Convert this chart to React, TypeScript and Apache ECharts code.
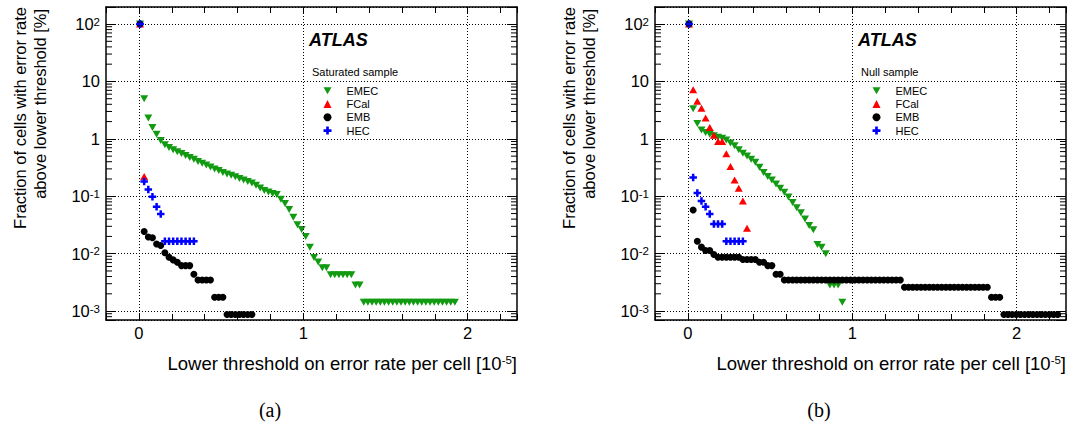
import React, { useEffect, useRef } from 'react';
import * as echarts from 'echarts';

// ---- bins: lower thresholds on error rate per cell [1e-5] ----
const BIN_START = 0.007;
const BIN_STEP = 0.0252;

// ---- (a) Saturated sample: fraction of cells [%] per threshold bin ----
const SAT_EMEC = [
  100, 5.0, 2.3, 1.58, 1.2, 0.94, 0.79, 0.71, 0.645, 0.595,
  0.555, 0.515, 0.475, 0.44, 0.405, 0.375, 0.35, 0.325, 0.3, 0.28,
  0.26, 0.245, 0.232, 0.218, 0.205, 0.192, 0.18, 0.17, 0.155, 0.14,
  0.126, 0.119, 0.112, 0.107, 0.089, 0.075, 0.059, 0.043, 0.032, 0.0265,
  0.02, 0.0129, 0.0086, 0.0072, 0.0057, 0.0057, 0.0043, 0.0043, 0.0043, 0.0043,
  0.0043, 0.0043, 0.00286, 0.00286, 0.00143, 0.00143, 0.00143, 0.00143, 0.00143, 0.00143,
  0.00143, 0.00143, 0.00143, 0.00143, 0.00143, 0.00143, 0.00143, 0.00143, 0.00143, 0.00143,
  0.00143, 0.00143, 0.00143, 0.00143, 0.00143, 0.00143, 0.00143,
];
const SAT_FCAL = [100, 0.22];
const SAT_EMB = [
  100, 0.0244, 0.0196, 0.019, 0.0148, 0.0139, 0.0104, 0.0087, 0.0078, 0.0071,
  0.0062, 0.0062, 0.0062, 0.0044, 0.00348, 0.00348, 0.00348, 0.00348, 0.00174, 0.00174,
  0.00174, 0.00087, 0.00087, 0.00087, 0.00087, 0.00087, 0.00087, 0.00087,
];
const SAT_HEC = [
  100, 0.18, 0.131, 0.098, 0.066, 0.049, 0.0164, 0.0164, 0.0164, 0.0164,
  0.0164, 0.0164, 0.0164, 0.0164,
];

// ---- (b) Null sample ----
const NULL_EMEC = [
  100, 3.35, 1.85, 1.43, 1.29, 1.2, 1.13, 1.07, 1.03, 0.96,
  0.85, 0.755, 0.643, 0.562, 0.505, 0.442, 0.39, 0.32, 0.259, 0.22,
  0.193, 0.164, 0.138, 0.117, 0.0975, 0.078, 0.0634, 0.0517, 0.04, 0.031,
  0.026, 0.0145, 0.0129, 0.01, 0.00286, 0.00286, 0.00286, 0.00143,
];
const NULL_FCAL = [
  100, 7.2, 4.5, 3.4, 2.3, 1.58, 1.16, 0.9, 0.9, 0.55,
  0.33, 0.193, 0.138, 0.083, 0.0277,
];
const NULL_EMB = [
  100, 0.0575, 0.0165, 0.013, 0.0114, 0.0114, 0.0097, 0.0087, 0.0087, 0.0087,
  0.0087, 0.0087, 0.0087, 0.0079, 0.0079, 0.0079, 0.0079, 0.0071, 0.0071, 0.0062,
  0.0062, 0.0044, 0.0044, 0.00347, 0.00347, 0.00347, 0.00347, 0.00347, 0.00347, 0.00347,
  0.00347, 0.00347, 0.00347, 0.00347, 0.00347, 0.00347, 0.00347, 0.00347, 0.00347, 0.00347,
  0.00347, 0.00347, 0.00347, 0.00347, 0.00347, 0.00347, 0.00347, 0.00347, 0.00347, 0.00347,
  0.00347, 0.00347, 0.0026, 0.0026, 0.0026, 0.0026, 0.0026, 0.0026, 0.0026, 0.0026,
  0.0026, 0.0026, 0.0026, 0.0026, 0.0026, 0.0026, 0.0026, 0.0026, 0.0026, 0.0026,
  0.0026, 0.0026, 0.0026, 0.00174, 0.00174, 0.00174, 0.00087, 0.00087, 0.00087, 0.00087,
  0.00087, 0.00087, 0.00087, 0.00087, 0.00087, 0.00087, 0.00087, 0.00087, 0.00087, 0.00087,
];
const NULL_HEC = [
  100, 0.213, 0.114, 0.083, 0.066, 0.049, 0.033, 0.033, 0.033, 0.0164,
  0.0164, 0.0164, 0.0164, 0.0164,
];

// ---- axes ----
const X_MIN = -0.2;
const X_MAX = 2.3;
const X_LABEL_VALUES = [0, 1, 2];
const X_LABELS = ['0', '1', '2'];
const X_GRID = [0, 1, 2];
const Y_MIN = 0.0007;
const Y_MAX = 198;
const Y_EXPONENTS = [2, 1, 0, -1, -2, -3];
const Y_TICK_LABELS = ['{b|10}{s|2}', '{b|10}', '{b|1}', '{b|10}{s|-1}', '{b|10}{s|-2}', '{b|10}{s|-3}'];

const SERIES_NAMES = ['EMEC', 'FCal', 'EMB', 'HEC'];
const SERIES_COLORS = ['#129b12', '#ff0000', '#000000', '#0000ff'];

const FONT = '"Liberation Sans", Arial, Helvetica, sans-serif';
const SERIF = '"Liberation Serif", "Times New Roman", serif';
const PLUS = 'path://M2,0H4V2H6V4H4V6H2V4H0V2H2Z';
const DOWN_TRI = 'path://M0,0L8,0L4,7Z';

const PANELS = [
  { left: 106, sample: 'Saturated sample', caption: '(a)', data: [SAT_EMEC, SAT_FCAL, SAT_EMB, SAT_HEC] },
  { left: 655, sample: 'Null sample', caption: '(b)', data: [NULL_EMEC, NULL_FCAL, NULL_EMB, NULL_HEC] },
];

const GRID_TOP = 7;
const GRID_W = 411;
const GRID_H = 313;

function toPoints(ys: number[]) {
  return ys.map((y, i) => [BIN_START + i * BIN_STEP, y]);
}

function xLabel(v: number): string {
  const r = Math.round(v * 1000) / 1000;
  const i = X_LABEL_VALUES.indexOf(r);
  return i >= 0 ? X_LABELS[i] : '';
}

function yLabel(v: number): string {
  const e = Math.log10(v);
  const r = Math.round(e);
  if (Math.abs(e - r) > 1e-6) return '';
  const i = Y_EXPONENTS.indexOf(r);
  return i >= 0 ? Y_TICK_LABELS[i] : '';
}

function minorTickValues(): number[] {
  const out: number[] = [];
  for (let k = -4; k <= 2; k++) {
    for (let m = 2; m <= 9; m++) {
      const v = m * Math.pow(10, k);
      if (v > Y_MIN && v < Y_MAX) out.push(v);
    }
  }
  return out;
}

function buildOption() {
  const grid: any[] = [];
  const xAxis: any[] = [];
  const yAxis: any[] = [];
  const series: any[] = [];
  const legend: any[] = [];
  const graphic: any[] = [];
  const minors = minorTickValues();

  PANELS.forEach((p, pi) => {
    const dx = p.left - 106;
    grid.push({ left: p.left, top: GRID_TOP, width: GRID_W, height: GRID_H });
    const axisLine = { show: true, onZero: false, lineStyle: { color: '#000', width: 1.5 } };
    const xBase = {
      type: 'value', gridIndex: pi, min: X_MIN, max: X_MAX, interval: 0.2,
      axisLine, splitLine: { show: false },
      axisTick: { show: true, inside: true, length: 6, lineStyle: { color: '#000', width: 1 } },
    };
    xAxis.push({
      ...xBase, position: 'bottom',
      axisLabel: { show: true, margin: 4, color: '#000', fontSize: 16.5, fontFamily: FONT, formatter: xLabel },
    });
    xAxis.push({ ...xBase, position: 'top', axisLabel: { show: false } });
    const yBase = {
      type: 'log', logBase: 10, gridIndex: pi, min: Y_MIN, max: Y_MAX,
      axisLine,
      axisTick: { show: true, inside: true, length: 10, lineStyle: { color: '#000', width: 1 } },
    };
    yAxis.push({
      ...yBase, position: 'left',
      axisLabel: {
        show: true, margin: 6, color: '#000', fontSize: 16.5, fontFamily: FONT, formatter: yLabel,
        rich: {
          b: { fontSize: 16.5, fontFamily: FONT, color: '#000' },
          s: { fontSize: 11.5, fontFamily: FONT, color: '#000', verticalAlign: 'top' },
        },
      },
      splitLine: { show: true, lineStyle: { type: [1, 2], color: '#000', width: 1 } },
    });
    yAxis.push({ ...yBase, position: 'right', axisLabel: { show: false }, splitLine: { show: false } });

    const xi = pi * 2;
    const yi = pi * 2;

    // vertical dotted grid lines
    series.push({
      type: 'scatter', name: '_grid' + pi, xAxisIndex: xi, yAxisIndex: yi, data: [], z: 1, silent: true,
      markLine: {
        silent: true, symbol: 'none', label: { show: false }, animation: false,
        lineStyle: { type: [1, 2], color: '#000', width: 1 },
        data: X_GRID.map((v) => ({ xAxis: v })),
      },
    });
    // log minor ticks on both vertical sides
    series.push({
      type: 'custom', name: '_minor' + pi, xAxisIndex: xi, yAxisIndex: yi, silent: true, z: 3,
      data: minors.map((v) => [0, v]),
      renderItem: (params: any, api: any) => {
        const y = api.coord([0, api.value(1)])[1];
        const cs = params.coordSys;
        return {
          type: 'group',
          children: [
            { type: 'line', shape: { x1: cs.x, y1: y, x2: cs.x + 6, y2: y }, style: { stroke: '#000', lineWidth: 1 } },
            { type: 'line', shape: { x1: cs.x + cs.width, y1: y, x2: cs.x + cs.width - 6, y2: y }, style: { stroke: '#000', lineWidth: 1 } },
          ],
        };
      },
    });

    const symbols: any[] = [
      { symbol: 'triangle', symbolRotate: 180, symbolSize: [8, 7] },
      { symbol: 'triangle', symbolRotate: 0, symbolSize: [8, 7] },
      { symbol: 'circle', symbolRotate: 0, symbolSize: 7 },
      { symbol: PLUS, symbolRotate: 0, symbolSize: 7.5 },
    ];
    SERIES_NAMES.forEach((name, si) => {
      series.push({
        type: 'scatter', name, xAxisIndex: xi, yAxisIndex: yi, z: 4,
        ...symbols[si],
        itemStyle: { color: SERIES_COLORS[si], opacity: 1 },
        emphasis: { disabled: true },
        data: toPoints(p.data[si]),
      });
    });

    legend.push({
      orient: 'vertical', left: 323.5 + dx, top: 85.2, padding: 0, itemGap: 2.3,
      itemWidth: 8, itemHeight: 8, selectedMode: false,
      textStyle: { fontSize: 11, fontFamily: FONT, color: '#000', padding: [0, 0, 0, 10] },
      data: [
        { name: 'EMEC', icon: DOWN_TRI },
        { name: 'FCal', icon: 'triangle' },
        { name: 'EMB', icon: 'circle' },
        { name: 'HEC', icon: PLUS },
      ],
    });

    graphic.push(
      {
        type: 'text', x: 309 + dx, y: 40, silent: true,
        style: { text: 'ATLAS', fontSize: 18, fontWeight: 'bold', fontStyle: 'italic', fontFamily: FONT, fill: '#000', align: 'left', verticalAlign: 'middle' },
      },
      {
        type: 'text', x: 312 + dx, y: 72, silent: true,
        style: { text: p.sample, fontSize: 11, fontFamily: FONT, fill: '#000', align: 'left', verticalAlign: 'middle' },
      },
      {
        type: 'text', x: 517 + dx, y: 363, silent: true,
        style: {
          text: 'Lower threshold on error rate per cell [10{s|-5}]',
          fontSize: 18.5, fontFamily: FONT, fill: '#000', align: 'right', verticalAlign: 'middle',
          rich: { s: { fontSize: 11.5, fontFamily: FONT, fill: '#000', verticalAlign: 'top' } },
        },
      },
      {
        type: 'text', x: 20 + dx, y: 7, rotation: Math.PI / 2, silent: true,
        style: { text: 'Fraction of cells with error rate', fontSize: 16.5, fontFamily: FONT, fill: '#000', align: 'right', verticalAlign: 'middle' },
      },
      {
        type: 'text', x: 40 + dx, y: 9, rotation: Math.PI / 2, silent: true,
        style: { text: 'above lower threshold [%]', fontSize: 16.5, fontFamily: FONT, fill: '#000', align: 'right', verticalAlign: 'middle' },
      },
      {
        type: 'text', x: 270 + dx, y: 410, silent: true,
        style: { text: p.caption, fontSize: 20, fontFamily: SERIF, fill: '#000', align: 'center', verticalAlign: 'middle' },
      },
    );
  });

  return {
    animation: false,
    backgroundColor: '#ffffff',
    grid, xAxis, yAxis, series, legend, graphic,
  };
}

export default function App() {
  const ref = useRef<HTMLDivElement>(null);
  useEffect(() => {
    if (!ref.current) return;
    const chart = echarts.init(ref.current, null, { renderer: 'svg' });
    chart.setOption(buildOption() as any);
    return () => chart.dispose();
  }, []);
  return (
    <div
      ref={ref}
      style={{ position: 'absolute', left: 0, top: 0, width: 1070, height: 423, background: '#fff' }}
    />
  );
}
